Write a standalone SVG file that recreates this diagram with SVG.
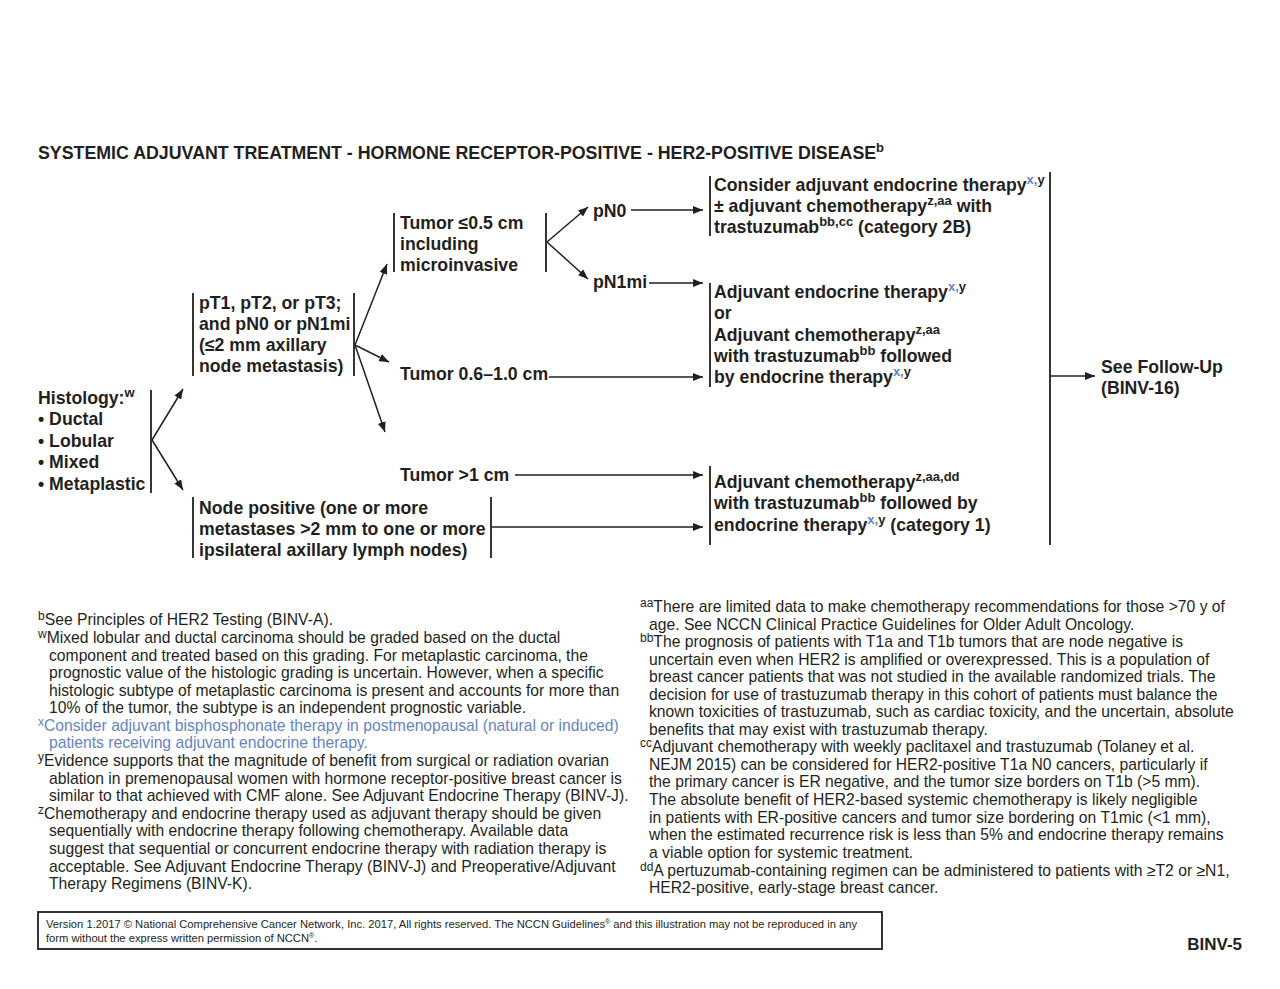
<svg xmlns="http://www.w3.org/2000/svg" width="1280" height="989" viewBox="0 0 1280 989">
<defs>
<marker id="ah" viewBox="0 0 10 8" refX="10" refY="4" markerWidth="10" markerHeight="8" markerUnits="userSpaceOnUse" orient="auto">
<path d="M0,0 L10,4 L0,8 z" fill="#231f20"/>
</marker>
<style>
.b{font-family:"Liberation Sans",Arial,sans-serif;font-weight:bold;font-size:17.7px;fill:#231f20}
.fn{font-family:"Liberation Sans",Arial,sans-serif;font-size:15.7px;fill:#231f20}
.blue{fill:#6684c4}
.sup{font-size:13px}
.fsup{font-size:12px}
.bar{stroke:#231f20;stroke-width:1.8;fill:none}
.con{stroke:#231f20;stroke-width:1.5;fill:none}
.arr{stroke:#231f20;stroke-width:1.5;fill:none;marker-end:url(#ah)}
.foot{font-family:"Liberation Sans",Arial,sans-serif;font-size:11.2px;fill:#231f20}
</style>
</defs>
<rect width="1280" height="989" fill="#ffffff"/>

<text class="b" x="38" y="159" style="font-size:17.8px">SYSTEMIC ADJUVANT TREATMENT - HORMONE RECEPTOR-POSITIVE - HER2-POSITIVE DISEASE<tspan class="sup" dy="-7">b</tspan></text>

<g id="node-histology">
<text class="b" x="38" y="404">Histology:<tspan class="sup" dy="-7">w</tspan></text>
<text class="b" x="38" y="425">• Ductal</text>
<text class="b" x="38" y="447">• Lobular</text>
<text class="b" x="38" y="468">• Mixed</text>
<text class="b" x="38" y="490">• Metaplastic</text>
<line class="bar" x1="151" y1="390" x2="151" y2="493"/>
</g>

<g id="node-pt">
<line class="bar" x1="193" y1="293" x2="193" y2="376"/>
<text class="b" x="199" y="309">pT1, pT2, or pT3;</text>
<text class="b" x="199" y="330">and pN0 or pN1mi</text>
<text class="b" x="199" y="351">(≤2 mm axillary</text>
<text class="b" x="199" y="372">node metastasis)</text>
<line class="bar" x1="354" y1="293" x2="354" y2="376"/>
</g>

<g id="node-nodepos">
<line class="bar" x1="193" y1="497" x2="193" y2="558"/>
<text class="b" x="199" y="514">Node positive (one or more</text>
<text class="b" x="199" y="535">metastases &gt;2 mm to one or more</text>
<text class="b" x="199" y="556">ipsilateral axillary lymph nodes)</text>
<line class="bar" x1="491" y1="497" x2="491" y2="558"/>
</g>

<g id="node-t05">
<line class="bar" x1="394" y1="213" x2="394" y2="272"/>
<text class="b" x="400" y="229">Tumor ≤0.5 cm</text>
<text class="b" x="400" y="250">including</text>
<text class="b" x="400" y="271">microinvasive</text>
<line class="bar" x1="546" y1="213" x2="546" y2="272"/>
</g>

<g id="node-t06">
<text class="b" x="400" y="380">Tumor 0.6–1.0 cm</text>
</g>

<g id="node-t1">
<text class="b" x="400" y="481">Tumor &gt;1 cm</text>
</g>

<g id="node-pn0">
<text class="b" x="593" y="217">pN0</text>
</g>

<g id="node-pn1mi">
<text class="b" x="593" y="288">pN1mi</text>
</g>

<g id="node-out1">
<line class="bar" x1="710" y1="176" x2="710" y2="236"/>
<text class="b" x="714" y="191">Consider adjuvant endocrine therapy<tspan class="sup blue" dy="-7">x,</tspan><tspan class="sup">y</tspan></text>
<text class="b" x="714" y="212">± adjuvant chemotherapy<tspan class="sup" dy="-7">z,aa</tspan><tspan dy="7"> with</tspan></text>
<text class="b" x="714" y="233">trastuzumab<tspan class="sup" dy="-7">bb,cc</tspan><tspan dy="7"> (category 2B)</tspan></text>
</g>

<g id="node-out2">
<line class="bar" x1="710" y1="283" x2="710" y2="387"/>
<text class="b" x="714" y="298">Adjuvant endocrine therapy<tspan class="sup blue" dy="-7">x,</tspan><tspan class="sup">y</tspan></text>
<text class="b" x="714" y="319">or</text>
<text class="b" x="714" y="341">Adjuvant chemotherapy<tspan class="sup" dy="-7">z,aa</tspan></text>
<text class="b" x="714" y="362">with trastuzumab<tspan class="sup" dy="-7">bb</tspan><tspan dy="7"> followed</tspan></text>
<text class="b" x="714" y="383">by endocrine therapy<tspan class="sup blue" dy="-7">x,</tspan><tspan class="sup">y</tspan></text>
</g>

<g id="node-out3">
<line class="bar" x1="710" y1="466" x2="710" y2="545"/>
<text class="b" x="714" y="488">Adjuvant chemotherapy<tspan class="sup" dy="-7">z,aa,dd</tspan></text>
<text class="b" x="714" y="509">with trastuzumab<tspan class="sup" dy="-7">bb</tspan><tspan dy="7"> followed by</tspan></text>
<text class="b" x="714" y="531">endocrine therapy<tspan class="sup blue" dy="-7">x,</tspan><tspan class="sup">y</tspan><tspan dy="7"> (category 1)</tspan></text>
</g>

<g id="node-followup">
<text class="b" x="1101" y="373">See Follow-Up</text>
<text class="b" x="1101" y="394">(BINV-16)</text>
</g>

<g id="connectors">
<line class="arr" x1="152" y1="440" x2="183" y2="389"/>
<line class="arr" x1="152" y1="440" x2="183" y2="490"/>
<line class="arr" x1="355" y1="345" x2="387" y2="264"/>
<line class="arr" x1="355" y1="345" x2="389" y2="362"/>
<line class="arr" x1="355" y1="345" x2="385" y2="432"/>
<line class="arr" x1="547" y1="242" x2="588" y2="207"/>
<line class="arr" x1="547" y1="242" x2="588" y2="279"/>
<line class="arr" x1="631" y1="210" x2="703" y2="210"/>
<line class="arr" x1="649" y1="283" x2="703" y2="283"/>
<line class="arr" x1="549" y1="377" x2="703" y2="377"/>
<line class="arr" x1="515" y1="475" x2="703" y2="475"/>
<line class="arr" x1="491" y1="527" x2="703" y2="527"/>
<line class="bar" x1="1050" y1="172" x2="1050" y2="545"/>
<line class="arr" x1="1050" y1="376" x2="1095" y2="376"/>
</g>

<g id="footnotes-left">
<text class="fn" x="38" y="625"><tspan class="fsup" dy="-5">b</tspan><tspan dy="5">See Principles of HER2 Testing (BINV-A).</tspan></text>
<text class="fn" x="38" y="643"><tspan class="fsup" dy="-5">w</tspan><tspan dy="5">Mixed lobular and ductal carcinoma should be graded based on the ductal</tspan></text>
<text class="fn" x="49" y="661">component and treated based on this grading. For metaplastic carcinoma, the</text>
<text class="fn" x="49" y="678">prognostic value of the histologic grading is uncertain. However, when a specific</text>
<text class="fn" x="49" y="696">histologic subtype of metaplastic carcinoma is present and accounts for more than</text>
<text class="fn" x="49" y="713">10% of the tumor, the subtype is an independent prognostic variable.</text>
<text class="fn blue" x="38" y="731"><tspan class="fsup" dy="-5">x</tspan><tspan dy="5">Consider adjuvant bisphosphonate therapy in postmenopausal (natural or induced)</tspan></text>
<text class="fn blue" x="49" y="748">patients receiving adjuvant endocrine therapy.</text>
<text class="fn" x="38" y="766"><tspan class="fsup" dy="-5">y</tspan><tspan dy="5">Evidence supports that the magnitude of benefit from surgical or radiation ovarian</tspan></text>
<text class="fn" x="49" y="784">ablation in premenopausal women with hormone receptor-positive breast cancer is</text>
<text class="fn" x="49" y="801">similar to that achieved with CMF alone. See Adjuvant Endocrine Therapy (BINV-J).</text>
<text class="fn" x="38" y="819"><tspan class="fsup" dy="-5">z</tspan><tspan dy="5">Chemotherapy and endocrine therapy used as adjuvant therapy should be given</tspan></text>
<text class="fn" x="49" y="836">sequentially with endocrine therapy following chemotherapy. Available data</text>
<text class="fn" x="49" y="854">suggest that sequential or concurrent endocrine therapy with radiation therapy is</text>
<text class="fn" x="49" y="872">acceptable. See Adjuvant Endocrine Therapy (BINV-J) and Preoperative/Adjuvant</text>
<text class="fn" x="49" y="889">Therapy Regimens (BINV-K).</text>
</g>

<g id="footnotes-right">
<text class="fn" x="640" y="612"><tspan class="fsup" dy="-5">aa</tspan><tspan dy="5">There are limited data to make chemotherapy recommendations for those &gt;70 y of</tspan></text>
<text class="fn" x="649" y="630">age. See NCCN Clinical Practice Guidelines for Older Adult Oncology.</text>
<text class="fn" x="640" y="647"><tspan class="fsup" dy="-5">bb</tspan><tspan dy="5">The prognosis of patients with T1a and T1b tumors that are node negative is</tspan></text>
<text class="fn" x="649" y="665">uncertain even when HER2 is amplified or overexpressed. This is a population of</text>
<text class="fn" x="649" y="682">breast cancer patients that was not studied in the available randomized trials. The</text>
<text class="fn" x="649" y="700">decision for use of trastuzumab therapy in this cohort of patients must balance the</text>
<text class="fn" x="649" y="717">known toxicities of trastuzumab, such as cardiac toxicity, and the uncertain, absolute</text>
<text class="fn" x="649" y="735">benefits that may exist with trastuzumab therapy.</text>
<text class="fn" x="640" y="752"><tspan class="fsup" dy="-5">cc</tspan><tspan dy="5">Adjuvant chemotherapy with weekly paclitaxel and trastuzumab (Tolaney et al.</tspan></text>
<text class="fn" x="649" y="770">NEJM 2015) can be considered for HER2-positive T1a N0 cancers, particularly if</text>
<text class="fn" x="649" y="787">the primary cancer is ER negative, and the tumor size borders on T1b (&gt;5 mm).</text>
<text class="fn" x="649" y="805">The absolute benefit of HER2-based systemic chemotherapy is likely negligible</text>
<text class="fn" x="649" y="823">in patients with ER-positive cancers and tumor size bordering on T1mic (&lt;1 mm),</text>
<text class="fn" x="649" y="840">when the estimated recurrence risk is less than 5% and endocrine therapy remains</text>
<text class="fn" x="649" y="858">a viable option for systemic treatment.</text>
<text class="fn" x="640" y="876"><tspan class="fsup" dy="-5">dd</tspan><tspan dy="5">A pertuzumab-containing regimen can be administered to patients with ≥T2 or ≥N1,</tspan></text>
<text class="fn" x="649" y="893">HER2-positive, early-stage breast cancer.</text>
</g>

<g id="footer">
<rect x="39" y="913" width="844" height="37" fill="#cfcfcf"/>
<rect x="38" y="912" width="844" height="37" fill="#ffffff" stroke="#231f20" stroke-width="1.8"/>
<text class="foot" x="46" y="928">Version 1.2017 © National Comprehensive Cancer Network, Inc. 2017, All rights reserved. The NCCN Guidelines<tspan font-size="7" dy="-4">®</tspan><tspan dy="4"> and this illustration may not be reproduced in any</tspan></text>
<text class="foot" x="46" y="942">form without the express written permission of NCCN<tspan font-size="7" dy="-4">®</tspan><tspan dy="4">.</tspan></text>
<text class="b" x="1242" y="950" text-anchor="end" style="font-size:17px">BINV-5</text>
</g>
</svg>
